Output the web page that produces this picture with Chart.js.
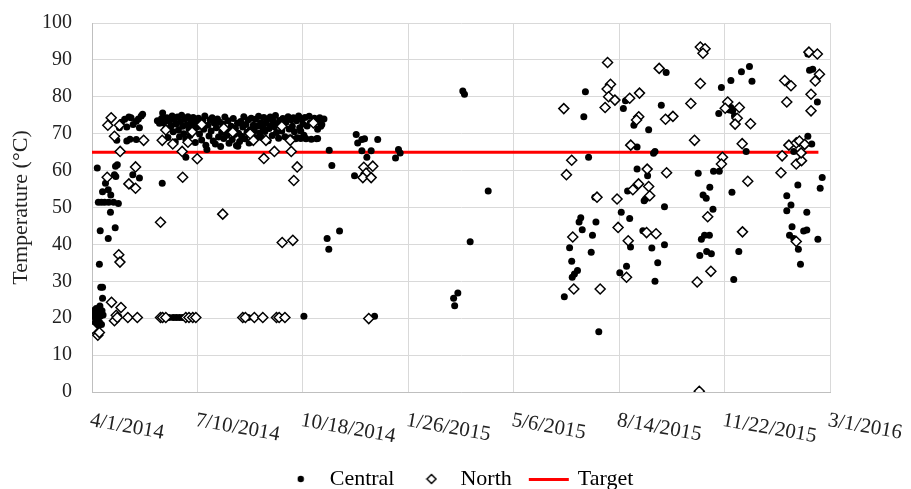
<!DOCTYPE html>
<html>
<head>
<meta charset="utf-8">
<script src="https://cdn.jsdelivr.net/npm/chart.js@4.4.1/dist/chart.umd.min.js"></script>
<style>html,body{margin:0;background:#fff}</style>
</head>
<body>
<canvas id="tempChart" width="911" height="489"></canvas>
<script>
// x values are days after 4/1/2014
const xTickDays = [0, 100, 200, 300, 400, 500, 600, 700];
const xTickLabels = ['4/1/2014', '7/10/2014', '10/18/2014', '1/26/2015', '5/6/2015', '8/14/2015', '11/22/2015', '3/1/2016'];

const central = [
  [0.5,22.0],[1.5,20.5],[2,18.5],[2.5,21.8],[3.5,19.6],[4,22.6],[5,20.2],[5.5,17.8],[6,21.2],[7,19.0],
  [7.5,23.3],[8,20.6],[9,18.3],[9.5,22.0],[10,25.4],[10.5,20.9],[8.3,28.4],[10,28.4],[7,34.6],
  [5,60.7],[6,51.4],[9,51.4],[12,51.4],[15.8,51.4],[20.5,51.4],[25,51.1],[10,54.3],[12.8,56.6],[15.4,54.8],
  [17.8,53.4],[17.5,48.7],[7.8,43.7],[22,44.5],[15.4,41.6],[21.3,58.9],[22.6,58.4],[22.3,61.2],[24,61.6],
  [38.7,58.9],[45,58.0],[66.6,56.6],[89,63.6],[109,65.7],[138.3,66.6],
  [23.5,68.2],[26,71.6],[28,73.1],[31,73.9],[33,71.8],[33,68.0],[35,74.5],[37,74.3],[39,72.5],[42,73.4],
  [42,68.4],[44,74.0],[45,71.6],[46.7,74.8],[48,75.3],[36,68.5],
  [62,73.5],[64,72.8],[66,74.1],[67,75.6],[68,73.0],[70,71.5],[71,74.3],[72,69.0],[73,73.4],[75,72.1],
  [76,74.8],[77,70.5],[78,73.8],[79,67.8],[80,72.6],[81,74.5],[82,71.0],[83,69.2],[84,73.3],[85,75.0],
  [86,72.0],[87,70.0],[88,73.9],[89,68.5],[90,72.4],[91,74.6],[92,71.3],[93,69.5],[94,73.7],[95,72.2],
  [96,74.4],[97,70.8],[98,67.6],[99,73.1],[100,71.9],[101,74.2],[102,69.9],[103,72.7],[104,68.3],[105,73.6],
  [106,71.2],[107,74.8],[108,66.9],[110,72.3],[111,69.4],[112,73.8],[113,70.7],[114,74.3],[115,68.0],
  [116,72.9],[117,67.2],[118,71.6],[119,74.0],[120,69.1],[121,73.2],[122,66.5],[123,70.3],[124,72.6],
  [125,68.7],[126,74.5],[127,71.0],[128,69.6],[129,73.5],[130,67.4],[131,70.9],[132,72.0],[133,68.4],
  [134,74.1],[135,69.8],[136,71.5],[137,66.8],[138,72.8],[139,70.1],[140,67.9],[141,73.3],[142,69.3],
  [143,71.8],[144,74.6],[145,68.6],[146,72.5],[147,70.4],[148,73.7],[149,67.5],[150,71.1],[151,74.2],
  [152,69.7],[153,72.3],[154,70.8],[155,73.9],[156,68.9],[157,72.1],[158,74.7],[159,70.2],[160,73.0],
  [161,69.0],[162,71.7],[163,74.4],[164,70.6],[165,72.9],[166,73.8],[167,68.1],[168,71.4],[169,74.5],
  [170,72.2],[171,69.5],[172,73.4],[173,71.9],[174,74.9],[175,70.3],[176,72.7],[177,68.8],[178,73.6],
  [180,70.7],[181,74.1],[182,72.4],[183,69.2],[184,73.1],[186,74.6],[187,71.3],[188,68.9],[189,73.8],
  [190,72.0],[191,74.3],[192,70.5],[193,68.6],[194,73.5],[196,74.8],[197,71.6],[198,68.7],[199,74.0],
  [200,72.6],[201,69.6],[202,74.4],[203,68.6],[204,72.1],[206,74.7],[207,73.0],[208,68.5],[210,72.8],
  [211,74.2],[212,73.4],[213,68.6],[214,71.2],[216,74.3],[218,72.5],[220,74.0],
  [195,68.9],[198,70.7],[201.6,68.9],[214,68.7],[216,73.4],[217,72.0],
  [73,20.2],[77,20.2],[80,20.2],[83,20.2],[86,20.2],[148,20.2],[180,20.2],[201,20.5],[268,20.5],
  [225,65.5],[227.5,61.4],[223,41.6],[224.6,38.7],[234.8,43.6],
  [250.6,69.8],[252,67.5],[256,68.4],[258.5,68.6],[271,68.4],[256,65.4],[264.8,65.4],[260.7,63.6],
  [249,58.6],[290.7,65.7],[292.3,64.8],[287.9,63.4],
  [351.7,81.6],[353.3,80.7],[375.8,54.5],[358.7,40.7],[347,26.8],[343,25.4],[344,23.4],
  [468,81.4],[466.5,74.6],[471,63.6],[506,78.9],[504,76.8],[514,72.3],[528,71.1],[540,77.7],[544.6,86.6],
  [517,66.4],[534,65.2],[532.6,64.7],[517,60.4],[527,58.6],[508,54.5],[525,52.3],[523.7,51.8],[477,52.8],
  [543,50.2],[463.6,47.2],[462,46.1],[465,44.0],[478,46.1],[474.7,42.5],[502,48.7],[510,47.0],[522.5,43.7],
  [473.5,37.9],[453,39.1],[455,35.4],[460.5,32.9],[457.6,32.0],[455.5,31.1],[448,25.8],[480.7,16.3],
  [510.8,39.3],[507,34.1],[500.6,32.3],[531,39.0],[543,39.9],[536.6,35.0],[534,30.0],
  [581,92.4],[597,82.5],[606,84.4],[616,86.8],[623.6,88.2],[626,84.2],[594.5,75.5],[604.7,76.4],[606,77.1],
  [607.7,76.2],[609.4,74.8],[611,74.3],[620.5,65.2],[575,59.3],[589.5,59.8],[595,59.8],[586,55.5],
  [579.6,53.4],[582.6,52.5],[589,49.5],[607,54.1],[581,42.5],[585.6,42.5],[578,41.4],[576.5,37.0],
  [583,38.1],[587.5,37.5],[613.5,38.1],[608.7,30.5],
  [679,91.6],[683.6,87.5],[680.6,87.2],[688,78.6],[679,69.3],[682.7,67.2],[665.6,65.2],[692.6,58.1],
  [690.7,55.2],[669.5,56.1],[659,53.2],[663,50.7],[659,49.1],[678,48.7],[664,44.8],[675,43.6],[678,43.9],
  [661.6,42.5],[665.6,41.6],[688.5,41.4],[670,38.7],[672,34.6]
];

const north = [
  [0.5,17.2],[5.5,15.4],[7,16.1],[18.5,24.3],[27.5,22.9],[21.3,19.3],[23,20.8],[24,20.2],[34,20.2],[43,20.2],
  [25.4,37.2],[26.5,35.2],
  [65,20.2],[67,20.2],[70,20.2],[89,20.2],[92,20.2],[95.6,20.2],[98.5,20.2],[143,20.2],[145.5,20.2],
  [154,20.2],[162,20.2],[175,20.2],[177.5,20.2],[183,20.2],[262.5,19.9],
  [18.2,74.3],[15,72.3],[26,72.3],[21.3,69.3],[26.7,65.2],[49,68.2],[14.4,58.2],[41.3,61.0],[35,56.4],
  [41.3,55.2],[65,46.0],[66.6,68.2],[76.6,67.2],[85.5,65.2],[86,58.2],[99.8,63.2],[91,67.7],[124,48.2],
  [153,68.2],[163,63.3],[165,68.2],[173,65.2],[189,65.2],[188,68.2],[194.6,61.0],[191.4,57.3],[180.4,40.5],
  [190.5,41.1],
  [70,71.0],[95,70.5],[104,72.5],[125,71.5],[133.5,70.4],[150,70.0],[180,72.0],[210,72.9],
  [257.8,60.9],[266.3,61.2],[260,59.3],[256.9,58.1],[264.8,58.1],
  [447.5,76.8],[489,89.3],[491.8,83.4],[488.6,82.1],[490,80.0],[496,79.1],[486.7,77.1],[510,79.6],[519.3,81.0],
  [538,87.7],[518.6,74.6],[516.5,73.7],[544,73.9],[551,74.7],[511,66.9],[455,62.8],[450,58.9],[526.6,60.4],
  [545,59.4],[518.4,56.4],[513,54.8],[528,55.7],[529,53.2],[479,52.8],[498,52.3],[456,42.0],[499,44.6],
  [508.6,41.0],[526,43.2],[535,42.9],[457,27.9],[482,27.9],[507,31.1],
  [568,78.2],[571.5,68.2],[577,83.6],[577,93.5],[581.5,93.0],[579.5,91.8],[598,63.6],[597,61.8],[603,78.6],
  [600.6,76.9],[614,77.1],[612,74.2],[610,72.6],[624.6,72.7],[616.7,67.3],[622,57.1],[617,43.4],[584,47.5],
  [587,32.7],[574,29.8],[576,0.2],
  [657,84.4],[663,83.0],[659,78.6],[682,80.7],[682,76.2],[680,92.1],[688,91.6],[690,86.1],[686,84.3],
  [661,66.9],[668,67.5],[671,68.0],[676,67.1],[654.6,64.0],[653.5,59.4],[668,61.8],[673,62.7],[672.6,64.8],
  [668,40.8]
];

const target = [[0, 65], [689, 65]];

function toXY(pairs) {
  return pairs.map(p => ({x: p[0], y: p[1]}));
}

// small canvases used as legend symbols
function legendIcon(kind) {
  const c = document.createElement('canvas');
  const g = c.getContext('2d');
  if (kind === 'dot') {
    c.width = 8; c.height = 8;
    g.fillStyle = '#000';
    g.beginPath(); g.arc(4, 4, 3.2, 0, Math.PI * 2); g.fill();
  } else if (kind === 'diamond') {
    c.width = 12; c.height = 12;
    g.fillStyle = '#fff'; g.strokeStyle = '#000'; g.lineWidth = 1.5;
    g.beginPath(); g.moveTo(6, 1.5); g.lineTo(10.5, 6); g.lineTo(6, 10.5); g.lineTo(1.5, 6); g.closePath();
    g.fill(); g.stroke();
  } else {
    c.width = 52; c.height = 3;
    g.fillStyle = '#ff0000';
    g.fillRect(6, 0, 40, 3);
  }
  return c;
}

const xLabels = {
  id: 'xLabels',
  afterDraw(chart) {
    const sc = chart.scales.x;
    const ctx = chart.ctx;
    ctx.save();
    ctx.font = '21px "Liberation Serif"';
    ctx.fillStyle = '#222';
    ctx.textBaseline = 'top';
    ctx.textAlign = 'left';
    xTickDays.forEach((d, i) => {
      ctx.save();
      ctx.translate(sc.getPixelForValue(d), sc.top + 18);
      ctx.rotate(10 * Math.PI / 180);
      ctx.fillText(xTickLabels[i], 0, 0);
      ctx.restore();
    });
    ctx.restore();
  }
};

Chart.defaults.font.family = '"Liberation Serif", "Times New Roman", serif';
Chart.defaults.color = '#222';

const icons = {dot: legendIcon('dot'), diamond: legendIcon('diamond'), line: legendIcon('line')};

new Chart(document.getElementById('tempChart'), {
  type: 'scatter',
  data: {
    datasets: [
      { label: 'Central', data: toXY(central), pointStyle: 'circle', pointRadius: 3.5,
        backgroundColor: '#000', borderColor: '#000', borderWidth: 0, order: 1 },
      { label: 'North', data: toXY(north), pointStyle: 'rectRot', pointRadius: 5,
        backgroundColor: '#fff', borderColor: '#000', borderWidth: 1.5, order: 0 },
      { label: 'Target', data: toXY(target), showLine: true, pointRadius: 0,
        borderColor: '#ff0000', borderWidth: 3, order: 2 }
    ]
  },
  options: {
    responsive: false,
    animation: false,
    events: [],
    layout: { padding: { top: 23, right: 0, bottom: -11, left: 5 } },
    scales: {
      x: {
        type: 'linear', min: 0, max: 700,
        ticks: { stepSize: 100, display: false },
        grid: { color: '#d9d9d9', drawTicks: false },
        border: { color: '#bfbfbf' },
        afterFit(s) { s.height = 57; }
      },
      y: {
        min: 0, max: 100,
        ticks: { stepSize: 10, padding: 0, font: { size: 20 } },
        grid: { color: '#d9d9d9', drawTicks: true, tickLength: 20, tickColor: 'rgba(0,0,0,0)' },
        border: { color: '#bfbfbf' },
        title: { display: true, text: 'Temperature (°C)', font: { size: 22 }, padding: { top: 3, bottom: 0 } },
        afterFit(s) { s.width = 87; }
      },
      // empty right margin so the legend centres like the original
      pad: {
        position: 'right',
        ticks: { display: false },
        grid: { display: false },
        border: { display: false },
        afterFit(s) { s.width = 81; }
      }
    },
    plugins: {
      tooltip: { enabled: false },
      legend: {
        position: 'bottom',
        labels: {
          usePointStyle: true,
          pointStyleWidth: 36,
          padding: 19,
          font: { size: 22 },
          generateLabels: () => [
            { text: 'Central', pointStyle: icons.dot, fillStyle: '#000', strokeStyle: '#000', lineWidth: 0, hidden: false, datasetIndex: 0 },
            { text: 'North', pointStyle: icons.diamond, fillStyle: '#fff', strokeStyle: '#000', lineWidth: 0, hidden: false, datasetIndex: 1 },
            { text: 'Target', pointStyle: icons.line, fillStyle: '#f00', strokeStyle: '#f00', lineWidth: 0, hidden: false, datasetIndex: 2 }
          ]
        }
      }
    }
  },
  plugins: [xLabels]
});
</script>
</body>
</html>
